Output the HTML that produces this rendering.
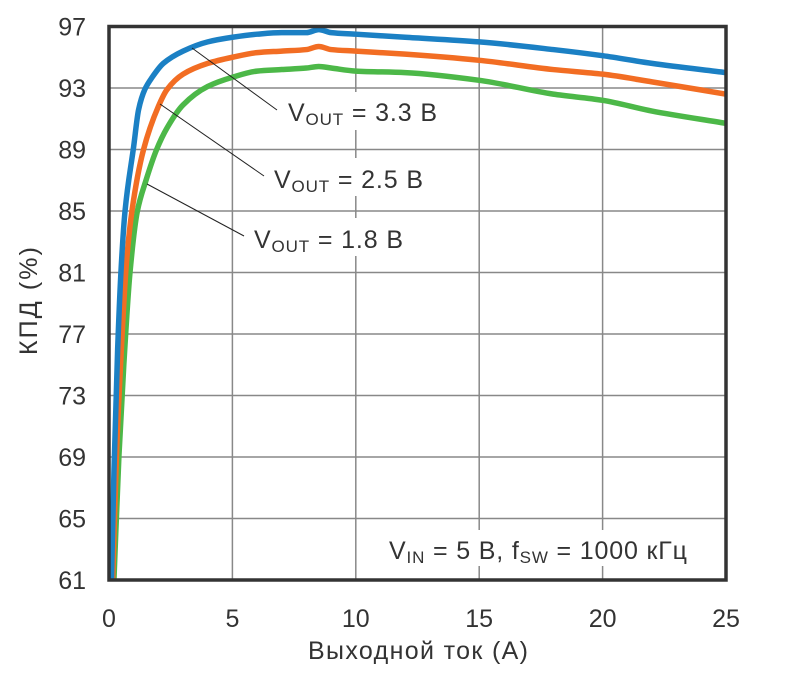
<!DOCTYPE html>
<html><head><meta charset="utf-8"><style>
body{margin:0;background:#fff;}
svg text{font-family:"Liberation Sans",Arial,sans-serif;fill:#333;}
</style></head><body>
<svg id="chart" width="793" height="687" viewBox="0 0 793 687">
<g id="grid"></g>
<g id="xticks"></g>
<g id="yticks"></g>
<g id="series"></g>
<rect x="109" y="26.5" width="617" height="553.5" fill="none" stroke="#333" stroke-width="3.5"/>
<g>
<line x1="192" y1="48" x2="277" y2="110" stroke="#222" stroke-width="1"/>
<line x1="160" y1="104" x2="264" y2="176" stroke="#222" stroke-width="1"/>
<line x1="147" y1="184" x2="244" y2="236" stroke="#222" stroke-width="1"/>
<rect x="282" y="92" width="162" height="38" fill="#fff"/>
<text x="288" y="121" font-size="25" textLength="149">V<tspan font-size="17" dy="4">OUT</tspan><tspan dy="-4"> = 3.3 В</tspan></text>
<rect x="268" y="158" width="162" height="38" fill="#fff"/>
<text x="274" y="188" font-size="25" textLength="149">V<tspan font-size="17" dy="4">OUT</tspan><tspan dy="-4"> = 2.5 В</tspan></text>
<rect x="248" y="218" width="162" height="38" fill="#fff"/>
<text x="254" y="248" font-size="25" textLength="149">V<tspan font-size="17" dy="4">OUT</tspan><tspan dy="-4"> = 1.8 В</tspan></text>
<rect x="380" y="530" width="322" height="36" fill="#fff"/>
<text x="389" y="559" font-size="25" textLength="298">V<tspan font-size="17" dy="4">IN</tspan><tspan dy="-4"> = 5 В, f</tspan><tspan font-size="17" dy="4">SW</tspan><tspan dy="-4"> = 1000 кГц</tspan></text>
</g>
<text x="308" y="659" font-size="25" textLength="220">Выходной ток (А)</text>
<text transform="translate(37,355) rotate(-90)" font-size="25" textLength="108">КПД (%)</text>
</svg>
<script>
const xTicks=[0,5,10,15,20,25];
const yTicks=[61,65,69,73,77,81,85,89,93,97];
const xBlue=[0.1,0.2,0.35,0.5,0.65,1.0,1.2,1.45,1.75,2.2,3,4,5,6,7,8,8.5,9,10,12,15,18,20,22,25];
const yBlue=[61,68,76,81.5,85,89.2,91.6,92.9,93.7,94.6,95.4,96.0,96.3,96.5,96.6,96.6,96.8,96.6,96.5,96.3,96,95.5,95.1,94.6,94.0];
const xOrange=[0.15,0.3,0.5,0.7,0.93,1.4,2,2.35,3,4,5,6,7,8,8.5,9,10,12,15,18,20,22,25];
const yOrange=[61,69,76,81.5,85,89,91.8,92.9,93.9,94.6,95.0,95.3,95.4,95.5,95.7,95.5,95.4,95.2,94.8,94.2,93.9,93.4,92.6];
const xGreen=[0.2,0.4,0.6,0.85,1.15,1.5,1.93,2.35,3,4,5,6,7,8,8.5,9,10,12,15,18,20,22,25];
const yGreen=[61,69,75,81,85,87.0,89,90.4,91.9,93.1,93.7,94.1,94.2,94.3,94.4,94.3,94.1,94.0,93.5,92.6,92.2,91.5,90.7];
const X=v=>109+v*(617/25);
const Y=v=>580-(v-61)*(553.5/36);
const NS='http://www.w3.org/2000/svg';
const grid=document.getElementById('grid'),xt=document.getElementById('xticks'),yt=document.getElementById('yticks'),se=document.getElementById('series');
xTicks.forEach(t=>{
 const l=document.createElementNS(NS,'line');
 
 
 l.setAttribute('x1',X(t));l.setAttribute('x2',X(t));l.setAttribute('y1',Y(97));l.setAttribute('y2',Y(61));
 l.setAttribute('stroke','#888');l.setAttribute('stroke-width','1.5');grid.appendChild(l);
 const s=document.createElementNS(NS,'text');
 
 
 s.setAttribute('x',X(t));s.setAttribute('y',627);s.setAttribute('font-size','25');s.setAttribute('text-anchor','middle');
 s.textContent=t;xt.appendChild(s);
});
yTicks.forEach(t=>{
 const l=document.createElementNS(NS,'line');
 
 
 l.setAttribute('x1',X(0));l.setAttribute('x2',X(25));l.setAttribute('y1',Y(t));l.setAttribute('y2',Y(t));
 l.setAttribute('stroke','#888');l.setAttribute('stroke-width','1.5');grid.appendChild(l);
 const s=document.createElementNS(NS,'text');
 
 
 s.setAttribute('x',86);s.setAttribute('y',Y(t)+9);s.setAttribute('font-size','25');s.setAttribute('text-anchor','end');
 s.textContent=t;yt.appendChild(s);
});
function line(xs,ys,color,name){
 // monotone cubic (Fritsch-Carlson) in data space
 const n=xs.length,h=[],dl=[],m=new Array(n);
 for(let i=0;i<n-1;i++){h[i]=xs[i+1]-xs[i];dl[i]=(ys[i+1]-ys[i])/h[i];}
 m[0]=dl[0];m[n-1]=dl[n-2];
 for(let i=1;i<n-1;i++){
  if(dl[i-1]*dl[i]<=0)m[i]=0;
  else{const w1=2*h[i]+h[i-1],w2=h[i]+2*h[i-1];m[i]=(w1+w2)/(w1/dl[i-1]+w2/dl[i]);}
 }
 let d='M'+X(xs[0])+','+Y(ys[0]);
 for(let i=0;i<n-1;i++){
  const x1=xs[i]+h[i]/3,y1=ys[i]+m[i]*h[i]/3,x2=xs[i+1]-h[i]/3,y2=ys[i+1]-m[i+1]*h[i]/3;
  d+=' C'+X(x1)+','+Y(y1)+' '+X(x2)+','+Y(y2)+' '+X(xs[i+1])+','+Y(ys[i+1]);
 }
 const p=document.createElementNS(NS,'path');
 
 
 p.setAttribute('d',d);
 p.setAttribute('fill','none');p.setAttribute('stroke',color);p.setAttribute('stroke-width','5.5');p.setAttribute('stroke-linejoin','round');
 se.appendChild(p);
}
line(xGreen,yGreen,'#4cb848','series-vout-1v8');
line(xOrange,yOrange,'#f26d23','series-vout-2v5');
line(xBlue,yBlue,'#1b80c4','series-vout-3v3');
</script>
</body></html>
